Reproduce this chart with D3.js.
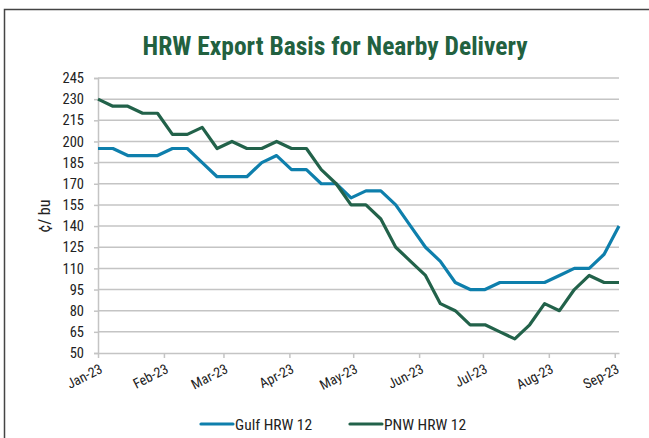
<!DOCTYPE html>
<html><head><meta charset="utf-8">
<script src="https://cdn.jsdelivr.net/npm/d3@7"></script>
<style>
body{margin:0;background:#fff;}
text{font-family:"Roboto Condensed","Liberation Sans Narrow","DejaVu Sans Condensed",Roboto,sans-serif;}
</style></head>
<body><svg id="c" width="649" height="438"></svg>
<script>
const title = "HRW Export Basis for Nearby Delivery";
const yLabel = "¢/ bu";
const startDate = "2023-01-01";
const weeks = d3.range(36); // weekly observations
const gulf = [195,195,190,190,190,195,195,185,175,175,175,185,190,180,180,170,170,160,165,165,155,140,125,115,100,95,95,100,100,100,100,105,110,110,120,140];
const pnw  = [230,225,225,220,220,205,205,210,195,200,195,195,200,195,195,180,170,155,155,145,125,115,105,85,80,70,70,65,60,70,85,80,95,105,100,100];
const yTicks = [50,65,80,95,110,125,140,155,170,185,200,215,230,245];
const monthTicks = ["2023-01-01","2023-02-01","2023-03-01","2023-04-01","2023-05-01","2023-06-01","2023-07-01","2023-08-01","2023-09-01"];
const seriesNames = ["Gulf HRW 12","PNW HRW 12"];
const colors = ["#0e7fac","#22624a"];

const parse = d3.timeParse("%Y-%m-%d");
const t0 = parse(startDate);
const dates = weeks.map(w => d3.timeDay.offset(t0, w*7));
const svg = d3.select("#c");

// outer frame
svg.append("rect").attr("x",4.5).attr("y",9.5).attr("width",700).attr("height",500)
  .attr("fill","none").attr("stroke","#444").attr("stroke-width",1.5);

const L=98, R=619, T=78, B=353;
const x = d3.scaleTime().domain([dates[0], dates[dates.length-1]]).range([L,R]);
const y = d3.scaleLinear().domain([50,245]).range([B,T]);

svg.append("text").attr("x",335).attr("y",55).attr("text-anchor","middle")
  .attr("fill","#22613f").attr("font-weight","bold").attr("font-size",25.5).text(title);

// gridlines
svg.append("g").selectAll("line").data(yTicks.filter(v=>v>50)).join("line")
  .attr("x1",L).attr("x2",R).attr("y1",d=>y(d)).attr("y2",d=>y(d))
  .attr("stroke","#c4c4c4").attr("stroke-width",1.5);

// y axis
const ya = svg.append("g").attr("transform",`translate(${L},0)`)
  .call(d3.axisLeft(y).tickValues(yTicks).tickSize(4).tickPadding(10));
ya.select(".domain").attr("stroke","#c4c4c4").attr("stroke-width",1.5);
ya.selectAll(".tick line").attr("stroke","#c4c4c4").attr("stroke-width",1.5);
ya.selectAll(".tick text").attr("font-size",14.5).attr("fill","#222");

// x axis
const xa = svg.append("g").attr("transform",`translate(0,${B})`)
  .call(d3.axisBottom(x).tickValues(monthTicks.map(parse)).tickFormat(d3.timeFormat("%b-%y")).tickSize(5).tickSizeOuter(0));
xa.select(".domain").attr("stroke","#c4c4c4").attr("stroke-width",1.5);
xa.selectAll(".tick line").attr("stroke","#c4c4c4").attr("stroke-width",1.5);
xa.selectAll(".tick text").attr("font-size",14).attr("fill","#222")
  .attr("text-anchor","end").attr("dy",null).attr("y",0)
  .attr("transform","translate(5,19) rotate(-27)");

svg.append("text").attr("transform","translate(50,216) rotate(-90)").attr("text-anchor","middle")
  .attr("font-size",16).attr("fill","#222").text(yLabel);

const line = d3.line().x((d,i)=>x(dates[i])).y(d=>y(d));
[gulf,pnw].forEach((s,k)=>{
  svg.append("path").datum(s).attr("d",line).attr("fill","none")
    .attr("stroke",colors[k]).attr("stroke-width",3.2).attr("stroke-linejoin","round");
});

// legend
const lg = [{x:201},{x:350}];
seriesNames.forEach((n,k)=>{
  const g = svg.append("g").attr("transform",`translate(${lg[k].x},424)`);
  g.append("line").attr("x1",0).attr("x2",32).attr("stroke",colors[k]).attr("stroke-width",3.2).attr("stroke-linecap","round");
  g.append("text").attr("x",34).attr("y",5.5).attr("font-size",15.5).attr("fill","#222").text(n);
});
</script></body></html>
